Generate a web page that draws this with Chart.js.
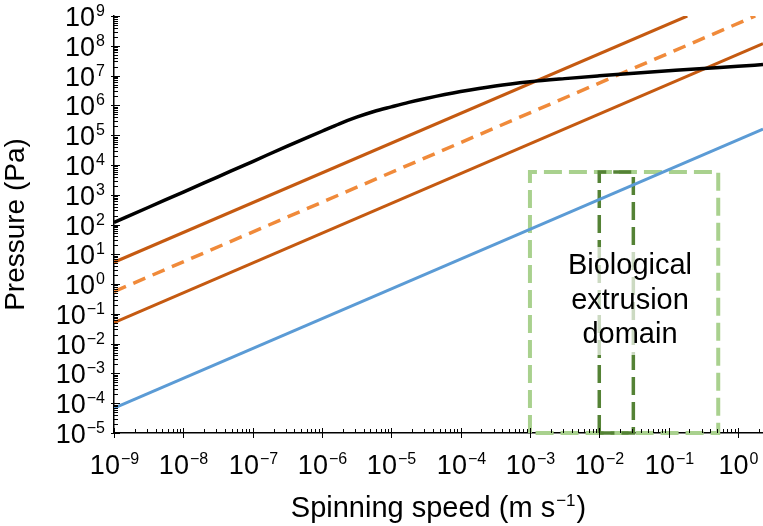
<!DOCTYPE html>
<html>
<head>
<meta charset="utf-8">
<script src="https://cdn.jsdelivr.net/npm/chart.js@4.4.1/dist/chart.umd.min.js"></script>
<style>
    html, body { margin: 0; padding: 0; background: #fff; }
    #wrap { width: 763px; height: 526px; position: relative; }
</style>
</head>
<body>
<div id="wrap"><canvas id="myChart"></canvas></div>
<script>
// values (speed in m/s, pressure in Pa)
const xTickPowers = [-9, -8, -7, -6, -5, -4, -3, -2, -1, 0];
const yTickPowers = [-5, -4, -3, -2, -1, 0, 1, 2, 3, 4, 5, 6, 7, 8, 9];

const blackSpeed = [1e-9, 3.16e-9, 1e-8, 3.16e-8, 1e-7, 3.16e-7, 1e-6, 1.78e-6, 3.16e-6, 5.62e-6,
    1e-5, 1.78e-5, 3.16e-5, 1e-4, 3.16e-4, 1e-3, 3.16e-3, 1e-2, 3.16e-2, 1e-1, 3.16e-1, 1, 2.3];
const blackPressure = [117, 380, 1.23e3, 4.0e3, 1.3e4, 4.3e4, 1.35e5, 2.4e5, 4.0e5, 6.2e5,
    8.9e5, 1.26e6, 1.7e6, 2.9e6, 4.5e6, 6.2e6, 7.9e6, 9.8e6, 1.2e7, 1.45e7, 1.74e7, 2.04e7, 2.34e7];

const orangeHighSpeed = [1e-9, 0.186];
const orangeHighPressure = [5.4, 1e9];
const orangeDashSpeed = [1e-9, 1.78];
const orangeDashPressure = [0.56, 1e9];
const orangeLowSpeed = [1e-9, 2.3];
const orangeLowPressure = [0.051, 1.18e8];
const blueSpeed = [1e-9, 2.3];
const bluePressure = [6.9e-5, 1.6e5];

const outerBoxSpeed = [1e-3, 1e-3, 0.52, 0.52, 1e-3];
const outerBoxPressure = [1e-5, 5.8e3, 5.8e3, 1e-5, 1e-5];
const innerBoxSpeed = [1e-2, 1e-2, 0.031, 0.031, 1e-2];
const innerBoxPressure = [1e-5, 5.8e3, 5.8e3, 1e-5, 1e-5];

const boxLabel = ['Biological', 'extrusion', 'domain'];

const FONT = '"Liberation Sans", Arial, Helvetica, sans-serif';

function pts(xs, ys) {
    return xs.map(function (x, i) { return { x: x, y: ys[i] }; });
}

function drawPow(ctx, exp, x, baseY, align) {
    const base = '10';
    const sup = (exp < 0 ? '\u2212' : '') + Math.abs(exp);
    ctx.font = '27px ' + FONT;
    const wb = ctx.measureText(base).width;
    ctx.font = '16px ' + FONT;
    const ws = ctx.measureText(sup).width;
    const total = wb + 1 + ws;
    let left = x;
    if (align === 'right') left = x - total;
    if (align === 'center') left = x - total / 2;
    ctx.textAlign = 'left';
    ctx.textBaseline = 'alphabetic';
    ctx.font = '27px ' + FONT;
    ctx.fillText(base, left, baseY);
    ctx.font = '16px ' + FONT;
    ctx.fillText(sup, left + wb + 1, baseY - 10);
}

const decor = {
    id: 'decor',
    afterDatasetsDraw(chart) {
        const ctx = chart.ctx;
        const xs = chart.scales.x;
        const ys = chart.scales.y;
        const area = chart.chartArea;
        ctx.save();
        ctx.strokeStyle = '#000';
        ctx.fillStyle = '#000';
        ctx.lineWidth = 1;

        // x ticks
        xTickPowers.forEach(function (p) {
            const px = Math.round(xs.getPixelForValue(Math.pow(10, p))) + 0.5;
            ctx.beginPath();
            ctx.moveTo(px, area.bottom - 5);
            ctx.lineTo(px, area.bottom + 5);
            ctx.stroke();
            for (let k = 2; k <= 9; k++) {
                const v = k * Math.pow(10, p);
                if (v > xs.max) break;
                const mx = Math.round(xs.getPixelForValue(v)) + 0.5;
                ctx.beginPath();
                ctx.moveTo(mx, area.bottom);
                ctx.lineTo(mx, area.bottom - 4);
                ctx.stroke();
            }
            drawPow(ctx, p, px, area.bottom + 41, 'center');
        });

        // y ticks
        yTickPowers.forEach(function (p) {
            const py = Math.round(ys.getPixelForValue(Math.pow(10, p))) + 0.5;
            ctx.beginPath();
            ctx.moveTo(area.left - 3, py);
            ctx.lineTo(area.left + 6, py);
            ctx.stroke();
            for (let k = 2; k <= 9; k++) {
                const v = k * Math.pow(10, p);
                if (v > ys.max) break;
                const my = Math.round(ys.getPixelForValue(v)) + 0.5;
                ctx.beginPath();
                ctx.moveTo(area.left, my);
                ctx.lineTo(area.left + 4, my);
                ctx.stroke();
            }
            drawPow(ctx, p, area.left - 9, py + 9, 'right');
        });

        // axis titles
        ctx.font = '28px ' + FONT;
        ctx.textBaseline = 'alphabetic';
        ctx.textAlign = 'center';
        ctx.save();
        ctx.translate(24, (area.top + area.bottom) / 2);
        ctx.rotate(-Math.PI / 2);
        ctx.fillText('Pressure (Pa)', 0, 0);
        ctx.restore();

        const t1 = 'Spinning speed (m s';
        const t2 = '\u22121';
        const t3 = ')';
        ctx.font = '29px ' + FONT;
        const w1 = ctx.measureText(t1).width;
        const w3 = ctx.measureText(t3).width;
        ctx.font = '17px ' + FONT;
        const w2 = ctx.measureText(t2).width;
        const tw = w1 + w2 + w3 + 2;
        let tx = (area.left + area.right) / 2 - tw / 2;
        const ty = 517;
        ctx.textAlign = 'left';
        ctx.font = '29px ' + FONT;
        ctx.fillText(t1, tx, ty);
        ctx.font = '17px ' + FONT;
        ctx.fillText(t2, tx + w1 + 1, ty - 11);
        ctx.font = '29px ' + FONT;
        ctx.fillText(t3, tx + w1 + w2 + 2, ty);

        // label inside the green box
        const cx = 630;
        ctx.fillStyle = 'rgba(255,255,255,0.7)';
        ctx.fillRect(566, 247, 128, 108);
        ctx.fillStyle = '#000';
        ctx.textAlign = 'center';
        ctx.font = '29px ' + FONT;
        boxLabel.forEach(function (s, i) {
            ctx.fillText(s, cx, 274 + i * 34.5);
        });
        ctx.restore();
    }
};

const ctx = document.getElementById('myChart');

const myChart = new Chart(ctx, {
    type: 'scatter',
    data: {
        datasets: [
            {
                label: 'black',
                data: pts(blackSpeed, blackPressure),
                borderColor: '#000000',
                borderWidth: 3.5,
                cubicInterpolationMode: 'monotone'
            },
            {
                label: 'orange high',
                data: pts(orangeHighSpeed, orangeHighPressure),
                borderColor: '#C55A11',
                borderWidth: 3
            },
            {
                label: 'orange dashed',
                data: pts(orangeDashSpeed, orangeDashPressure),
                borderColor: '#F08A3A',
                borderWidth: 3.5,
                borderDash: [13, 8]
            },
            {
                label: 'orange low',
                data: pts(orangeLowSpeed, orangeLowPressure),
                borderColor: '#C55A11',
                borderWidth: 3
            },
            {
                label: 'blue',
                data: pts(blueSpeed, bluePressure),
                borderColor: '#5B9BD5',
                borderWidth: 3
            },
            {
                label: 'inner box',
                data: pts(innerBoxSpeed, innerBoxPressure),
                borderColor: '#548235',
                borderWidth: 3.5,
                borderDash: [18, 7],
                clip: 6
            },
            {
                label: 'outer box',
                data: pts(outerBoxSpeed, outerBoxPressure),
                borderColor: '#A9D18E',
                borderWidth: 4,
                borderDash: [18, 7],
                clip: 6
            }
        ]
    },
    options: {
        responsive: true,
        maintainAspectRatio: false,
        animation: false,
        showLine: true,
        elements: {
            point: { radius: 0, hoverRadius: 0 },
            line: { borderCapStyle: 'butt', fill: false }
        },
        layout: {
            padding: { left: 106, top: 16, right: 0, bottom: 85 }
        },
        scales: {
            x: {
                type: 'logarithmic',
                min: 1e-9,
                max: 2.3,
                grid: { display: false },
                ticks: { display: false },
                border: { display: true, color: '#000', width: 1.5 }
            },
            y: {
                type: 'logarithmic',
                min: 1e-5,
                max: 1e9,
                grid: { display: false },
                ticks: { display: false },
                border: { display: true, color: '#000', width: 1.5 }
            }
        },
        plugins: {
            legend: { display: false },
            tooltip: { enabled: false }
        }
    },
    plugins: [decor]
});
</script>
</body>
</html>
